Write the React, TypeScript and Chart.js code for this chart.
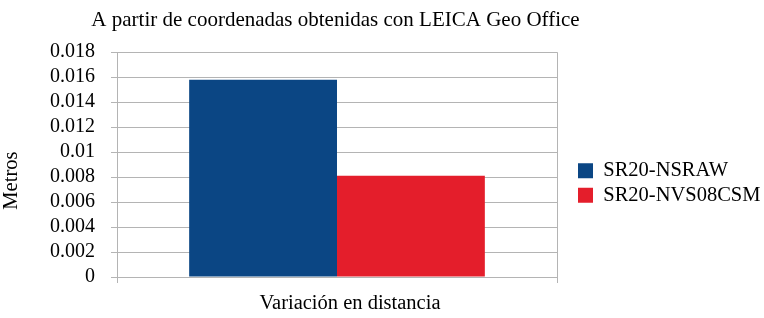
import React, { useEffect, useRef } from "react";
import { Chart, registerables } from "chart.js";

Chart.register(...registerables);

const categories = ["Variación en distancia"];
const seriesNames = ["SR20-NSRAW", "SR20-NVS08CSM"];
const seriesNSRAW = [0.0158];
const seriesNVS08CSM = [0.0081];
const seriesColors = ["#0b4684", "#e41e2b"];
const yTicks = [0, 0.002, 0.004, 0.006, 0.008, 0.01, 0.012, 0.014, 0.016, 0.018];
const yTickLabels = ["0", "0.002", "0.004", "0.006", "0.008", "0.01", "0.012", "0.014", "0.016", "0.018"];
const titleText = "A partir de coordenadas obtenidas con LEICA Geo Office";
const yTitle = "Metros";

const FONT = "'Liberation Serif', 'Times New Roman', serif";
const GRID = "#b4b4b4";
const LEGEND_SHIFT_X = 17;
const LEGEND_SHIFT_Y = 24;

const legendGap = {
  id: "legendGap",
  afterLayout(chart: any) {
    const lg = chart.legend;
    if (lg) {
      lg.left += LEGEND_SHIFT_X;
      lg.right = chart.width;
      lg.top += LEGEND_SHIFT_Y;
      lg.bottom += LEGEND_SHIFT_Y;
    }
  },
};

const textPlugin = {
  id: "textPlugin",
  afterDraw(chart: any) {
    const ctx = chart.ctx;
    const area = chart.chartArea;
    ctx.save();
    ctx.fillStyle = "#000";
    ctx.textAlign = "center";
    ctx.textBaseline = "middle";
    ctx.font = `21px ${FONT}`;
    ctx.fillText(titleText, (area.left + area.right) / 2 - 1.5, 20);
    ctx.font = `20.5px ${FONT}`;
    ctx.translate(12, (area.top + area.bottom) / 2 + 16);
    ctx.rotate(-Math.PI / 2);
    ctx.fillText(yTitle, 0, 0);
    ctx.restore();
  },
};

export default function App() {
  const ref = useRef<HTMLCanvasElement | null>(null);
  useEffect(() => {
    if (!ref.current) return;
    const chart = new Chart(ref.current, {
      type: "bar",
      data: {
        labels: categories,
        datasets: [
          { label: seriesNames[0], data: seriesNSRAW, backgroundColor: seriesColors[0], categoryPercentage: 0.672, barPercentage: 1 },
          { label: seriesNames[1], data: seriesNVS08CSM, backgroundColor: seriesColors[1], categoryPercentage: 0.672, barPercentage: 1 },
        ],
      },
      plugins: [legendGap, textPlugin],
      options: {
        animation: false,
        responsive: false,
        maintainAspectRatio: false,
        layout: { padding: { left: 50, right: 38, top: 0, bottom: 0 } },
        plugins: {
          title: {
            display: true,
            text: titleText,
            color: "rgba(0,0,0,0)",
            font: { family: FONT, size: 21, weight: "normal" },
            padding: { top: 9, bottom: 18 },
          },
          legend: {
            position: "right",
            labels: {
              boxWidth: 15,
              boxHeight: 15,
              padding: 4,
              color: "#000",
              font: { family: FONT, size: 20.5 },
            },
          },
          tooltip: { enabled: false },
        },
        scales: {
          x: {
            afterFit: (s: any) => {
              s.height = 41;
            },
            grid: { display: true, color: GRID, tickLength: 6, offset: true },
            border: { color: GRID },
            ticks: { color: "#000", font: { family: FONT, size: 20.5 }, padding: 8, labelOffset: 13 },
          },
          y: {
            min: 0,
            max: 0.018,
            afterBuildTicks: (axis: any) => {
              axis.ticks = yTicks.map((v) => ({ value: v }));
            },
            afterFit: (s: any) => {
              s.width = 67;
            },
            grid: { color: GRID, tickLength: 6 },
            border: { color: GRID },
            ticks: {
              color: "#000",
              autoSkip: false,
              font: { family: FONT, size: 20 },
              padding: 16,
              callback: (_v: any, i: number) => yTickLabels[i],
            },
          },
        },
      },
    });
    return () => chart.destroy();
  }, []);
  return (
    <div style={{ position: "absolute", left: 0, top: 0, width: 764, height: 318, background: "#fff" }}>
      <canvas ref={ref} width={764} height={318} style={{ display: "block" }} />
    </div>
  );
}
